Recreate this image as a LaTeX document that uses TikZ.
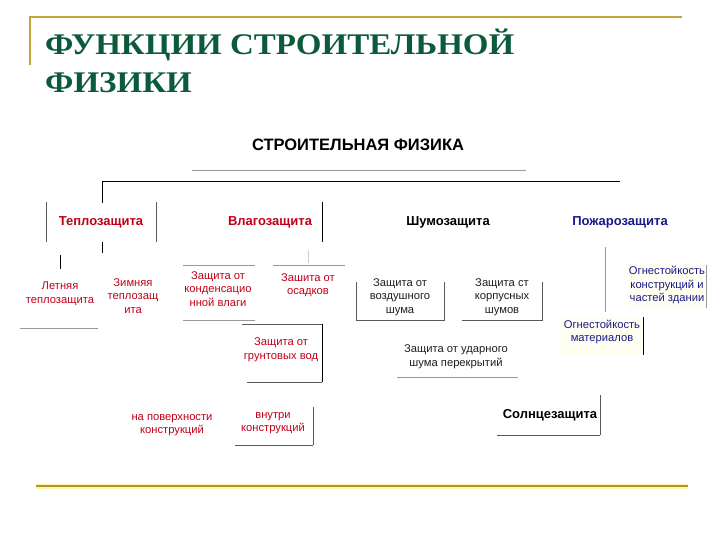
\documentclass[tikz,border=0pt]{standalone}
\usepackage{fontspec}
\setmainfont{Liberation Serif}
\newfontfamily\arial{Liberation Sans}
\definecolor{titlegreen}{HTML}{0B5A3C}
\definecolor{gold}{HTML}{BFA540}
\definecolor{paleyellow}{HTML}{FFF6A8}
\definecolor{myred}{HTML}{C00018}
\definecolor{navy}{HTML}{1A1A8A}
\definecolor{txt}{HTML}{1E1E1E}
\begin{document}
\begin{tikzpicture}[x=1pt,y=-1pt,
  title/.style={font=\bfseries\fontsize{30}{36}\selectfont, text=titlegreen, inner sep=0, anchor=base west},
  head/.style={font=\arial\bfseries\fontsize{13}{15}\selectfont, inner sep=0},
  sub/.style={font=\arial\fontsize{11.2}{13.5}\selectfont, align=center, inner sep=0},
  ln/.style={line width=0.8pt, draw=black},
  dg/.style={line width=0.8pt, draw=black!65},
  gl/.style={line width=0.8pt, draw=black!40}]
\useasboundingbox (0,0) rectangle (720,540);
% frame
\draw[gold, line width=1.4pt] (30,65) -- (30,17) -- (682,17);
\draw[paleyellow, line width=5pt] (36,486) -- (688,486);
\draw[gold!90!black, line width=2.4pt] (36,486) -- (688,486);
% title
\node[title] (tl1) at (45,55) {\scalebox{1.1}[1]{ФУНКЦИИ СТРОИТЕЛЬНОЙ}};
\node[title] (tl2) at (45,93) {\scalebox{1.1}[1]{ФИЗИКИ}};
% main
\node[font=\arial\bfseries\fontsize{16.5}{19}\selectfont, inner sep=0, text=black] (main) at (358,145) {СТРОИТЕЛЬНАЯ ФИЗИКА};
\draw[gl] (192,170) -- (526,170);
\draw[ln] (102,203) -- (102,181) -- (620,181);
% tier 1
\node[head, text=myred] (t1) at (101,222) {Теплозащита};
\node[head, text=myred] (t2) at (270,222) {Влагозащита};
\node[head, text=black] (t3) at (448,222) {Шумозащита};
\node[head, text=navy] (t4) at (620,222) {Пожарозащита};
\draw[dg] (46,202) -- (46,242);
\draw[dg] (156,202) -- (156,242);
\draw[ln] (322,202) -- (322,242);
\draw[ln] (102,242) -- (102,253);
\draw[ln] (60,255) -- (60,269);
% thermal
\node[sub, text=myred] (s1) at (60,294) {Летняя\\теплозащита};
\node[sub, text=myred] (s2) at (133,296) {Зимняя\\теплозащ\\ита};
\draw[gl] (20,328) -- (98,328);
% moisture
\node[sub, text=myred] (s3) at (218,289) {Защита от\\конденсацио\\нной влаги};
\draw[gl] (183,265) -- (255,265);
\draw[gl] (183,320) -- (255,320);
\node[sub, text=myred] (s4) at (308,285) {Зашита от\\осадков};
\draw[gl] (273,265) -- (345,265);
\draw[line width=0.8pt, draw=black!20] (308,250) -- (308,263);
\node[sub, text=myred] (s5) at (281,350) {Защита от\\грунтовых вод};
\draw[dg] (242,324) -- (322,324);
\draw[ln] (322,324) -- (322,382);
\draw[dg] (247,382) -- (322,382);
\node[sub, text=myred] (s6) at (172,425) {на поверхности\\конструкций};
\node[sub, text=myred] (s7) at (273,423) {внутри\\конструкций};
\draw[dg] (313,407) -- (313,445);
\draw[dg] (235,445) -- (313,445);
% noise
\node[sub, text=txt] (n1) at (400,297) {Защита от\\воздушного\\шума};
\draw[dg] (356,282) -- (356,320) -- (444,320) -- (444,282);
\node[sub, text=txt] (n2) at (502,297) {Защита ст\\корпусных\\шумов};
\draw[dg] (462,320) -- (542,320) -- (542,282);
\node[sub, text=txt] (n3) at (456,357) {Защита от ударного\\шума перекрытий};
\draw[gl] (397,377) -- (518,377);
% fire
\fill[yellow!5] (628,264) rectangle (706,309);
\fill[yellow!5] (560,317) rectangle (643,355);
\node[sub, text=navy] (f1) at (667,285) {Огнестойкость\\конструкций и\\частей здании};
\draw[gl] (605,247) -- (605,312);
\draw[gl] (706,265) -- (706,308);
\node[sub, text=navy] (f2) at (602,332) {Огнестойкость\\материалов};
\draw[ln] (643,317) -- (643,355);
% sun
\node[head, text=black] (sun) at (550,415) {Солнцезащита};
\draw[dg] (600,395) -- (600,435);
\draw[dg] (497,435) -- (600,435);
\end{tikzpicture}
\end{document}
